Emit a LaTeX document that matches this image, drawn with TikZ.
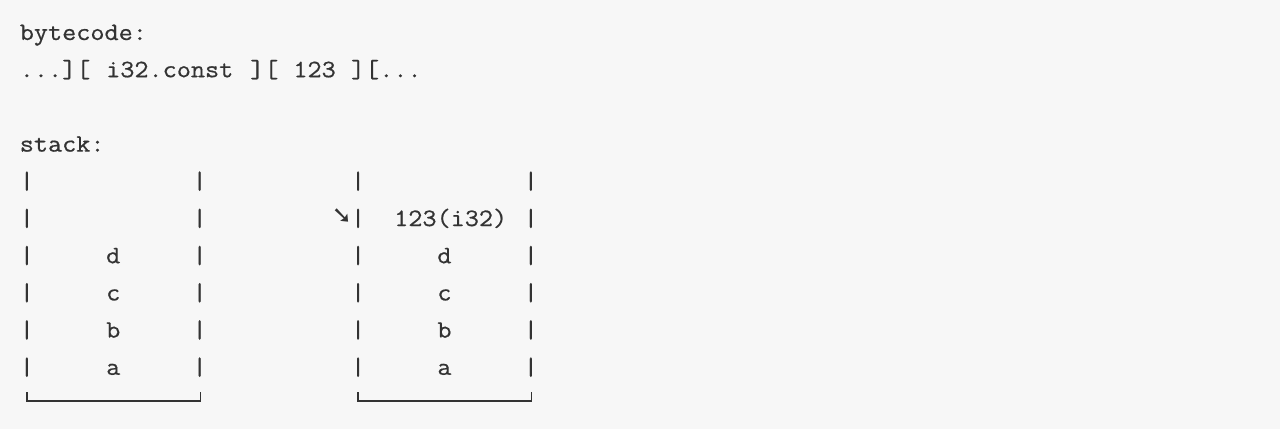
\documentclass[tikz,border=0pt]{standalone}
\usepackage{fontspec}
\setmonofont{Latin Modern Mono}[FakeStretch=1.097,FakeBold=0.6]
\newfontfamily\symfont{DejaVu Sans Bold}
\definecolor{bgc}{HTML}{F7F7F7}
\definecolor{txt}{HTML}{333333}
\tikzset{
  mono/.style={inner sep=0pt, outer sep=0pt, anchor=base west, text=txt,
    font=\ttfamily\fontsize{25}{25}\selectfont},
  bracket/.style={draw=txt, line width=1.8pt},
}
\begin{document}
\begin{tikzpicture}[x=1pt,y=-1pt]
\fill[bgc] (0,0) rectangle (1280,429);
\useasboundingbox (0,0) rectangle (1280,429);
% row r baseline = 40 + 37.2 r ; column c left = 19.8 + 14.4 c
\node[mono] (l0) at ({19.8+14.4*0},{40+37.2*0}) {bytecode:};
\node[mono] (l1a) at ({19.8+14.4*0},{40+37.2*1}) {...][};
\node[mono] (l1b) at ({19.8+14.4*6},{40+37.2*1}) {i32.const};
\node[mono] (l1c) at ({19.8+14.4*16},{40+37.2*1}) {][};
\node[mono] (l1d) at ({19.8+14.4*19},{40+37.2*1}) {123};
\node[mono] (l1e) at ({19.8+14.4*23},{40+37.2*1}) {][...};
\node[mono] (l3) at ({19.8+14.4*0},{40+37.2*3}) {stack:};
\foreach \r in {4,...,9}{
  \foreach \c/\n in {0/a,12/b,23/c,35/d}{
    \node[mono] (bar\r\n) at ({19.8+14.4*\c},{40+37.2*\r}) {|};
  }
}
\node[mono] (v1) at ({19.8+14.4*26},{40+37.2*5}) {123(i32)};
\foreach \r/\t in {6/d,7/c,8/b,9/a}{
  \node[mono] (p\r) at ({19.8+14.4*6},{40+37.2*\r}) {\t};
  \node[mono] (q\r) at ({19.8+14.4*29},{40+37.2*\r}) {\t};
}
\node[inner sep=0pt, text=txt, font=\symfont\fontsize{24}{24}\selectfont] (arr) at (342,216) {➘};
% bottom brackets
\draw[bracket] (27,392) -- (27,401) -- (200.5,401) -- (200.5,392);
\draw[bracket] (358,392) -- (358,401) -- (531.5,401) -- (531.5,392);
\end{tikzpicture}
\end{document}
